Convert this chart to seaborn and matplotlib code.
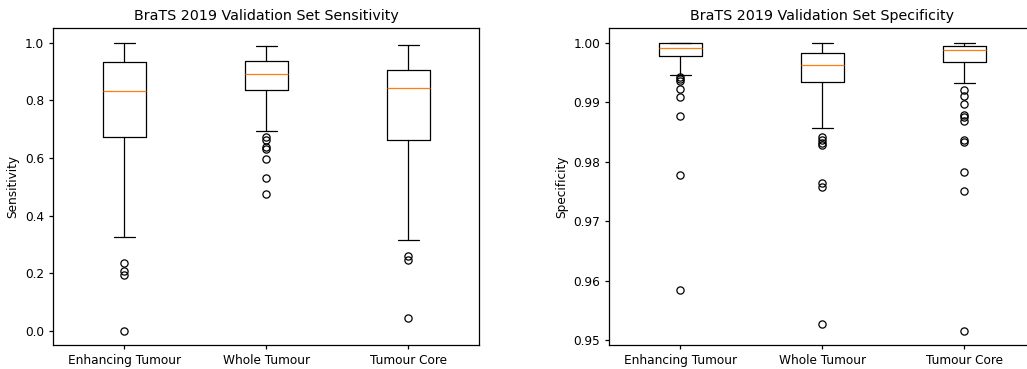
import seaborn as sns
import matplotlib.pyplot as plt

# tumour regions (x categories)
regions = ['Enhancing Tumour', 'Whole Tumour', 'Tumour Core']

# sensitivity box stats: whislo, q1, med, q3, whishi
sens_whislo = [0.326, 0.694, 0.316]
sens_q1 = [0.672, 0.836, 0.661]
sens_med = [0.832, 0.891, 0.843]
sens_q3 = [0.934, 0.935, 0.904]
sens_whishi = [1.000, 0.987, 0.992]
sens_fliers = [
    [0.235, 0.206, 0.194, 0.000],
    [0.672, 0.662, 0.639, 0.631, 0.595, 0.532, 0.476],
    [0.260, 0.246, 0.046],
]

# specificity box stats
spec_whislo = [0.99463, 0.98572, 0.99318]
spec_q1 = [0.99782, 0.99335, 0.99681]
spec_med = [0.99906, 0.99631, 0.99877]
spec_q3 = [0.99990, 0.99832, 0.99950]
spec_whishi = [1.00000, 0.99995, 1.00000]
spec_fliers = [
    [0.99429, 0.99385, 0.99362, 0.99227, 0.99093, 0.98774, 0.97773, 0.95841],
    [0.98411, 0.98366, 0.98321, 0.98282, 0.97638, 0.97582, 0.95281],
    [0.99200, 0.99110, 0.98970, 0.98786, 0.98747, 0.98690, 0.98366, 0.98337,
     0.97828, 0.97514, 0.95158],
]

sns.set_style('ticks')
plt.rcParams['font.family'] = ['DejaVu Sans']
plt.rcParams['text.color'] = 'black'
plt.rcParams['axes.labelcolor'] = 'black'
plt.rcParams['xtick.color'] = 'black'
plt.rcParams['ytick.color'] = 'black'
plt.rcParams['axes.edgecolor'] = 'black'
plt.rcParams['axes.linewidth'] = 0.9
plt.rcParams['xtick.major.width'] = 0.9
plt.rcParams['ytick.major.width'] = 0.9
plt.rcParams['xtick.major.size'] = 3.0
plt.rcParams['ytick.major.size'] = 3.0

orange = sns.color_palette('tab10')[1]


def make_stats(lo, q1, med, q3, hi, fl):
    stats = []
    for i, name in enumerate(regions):
        stats.append({'label': name, 'whislo': lo[i], 'q1': q1[i], 'med': med[i],
                      'q3': q3[i], 'whishi': hi[i], 'fliers': fl[i]})
    return stats


def draw(ax, stats, title, ylabel):
    lw = 0.9
    ax.bxp(stats, positions=[1, 2, 3], widths=0.3,
           boxprops=dict(color='black', linewidth=lw),
           whiskerprops=dict(color='black', linewidth=lw),
           capprops=dict(color='black', linewidth=lw),
           medianprops=dict(color=orange, linewidth=lw),
           flierprops=dict(marker='o', markerfacecolor='none', markeredgecolor='black',
                           markersize=5.2, markeredgewidth=lw))
    ax.set_title(title, fontsize=10.3)
    ax.set_ylabel(ylabel, fontsize=8.7)
    ax.tick_params(labelsize=8.7)
    for s in ax.spines.values():
        s.set_visible(True)


fig = plt.figure(figsize=(10.27, 3.69), dpi=100)
ax1 = fig.add_axes([0.0519, 0.0644, 0.4148, 0.8591])
ax2 = fig.add_axes([0.5933, 0.0644, 0.4148, 0.8591])

draw(ax1, make_stats(sens_whislo, sens_q1, sens_med, sens_q3, sens_whishi, sens_fliers),
     'BraTS 2019 Validation Set Sensitivity', 'Sensitivity')
draw(ax2, make_stats(spec_whislo, spec_q1, spec_med, spec_q3, spec_whishi, spec_fliers),
     'BraTS 2019 Validation Set Specificity', 'Specificity')
ax2.set_yticks([0.95, 0.96, 0.97, 0.98, 0.99, 1.00])

fig.savefig('out.png', dpi=100)
